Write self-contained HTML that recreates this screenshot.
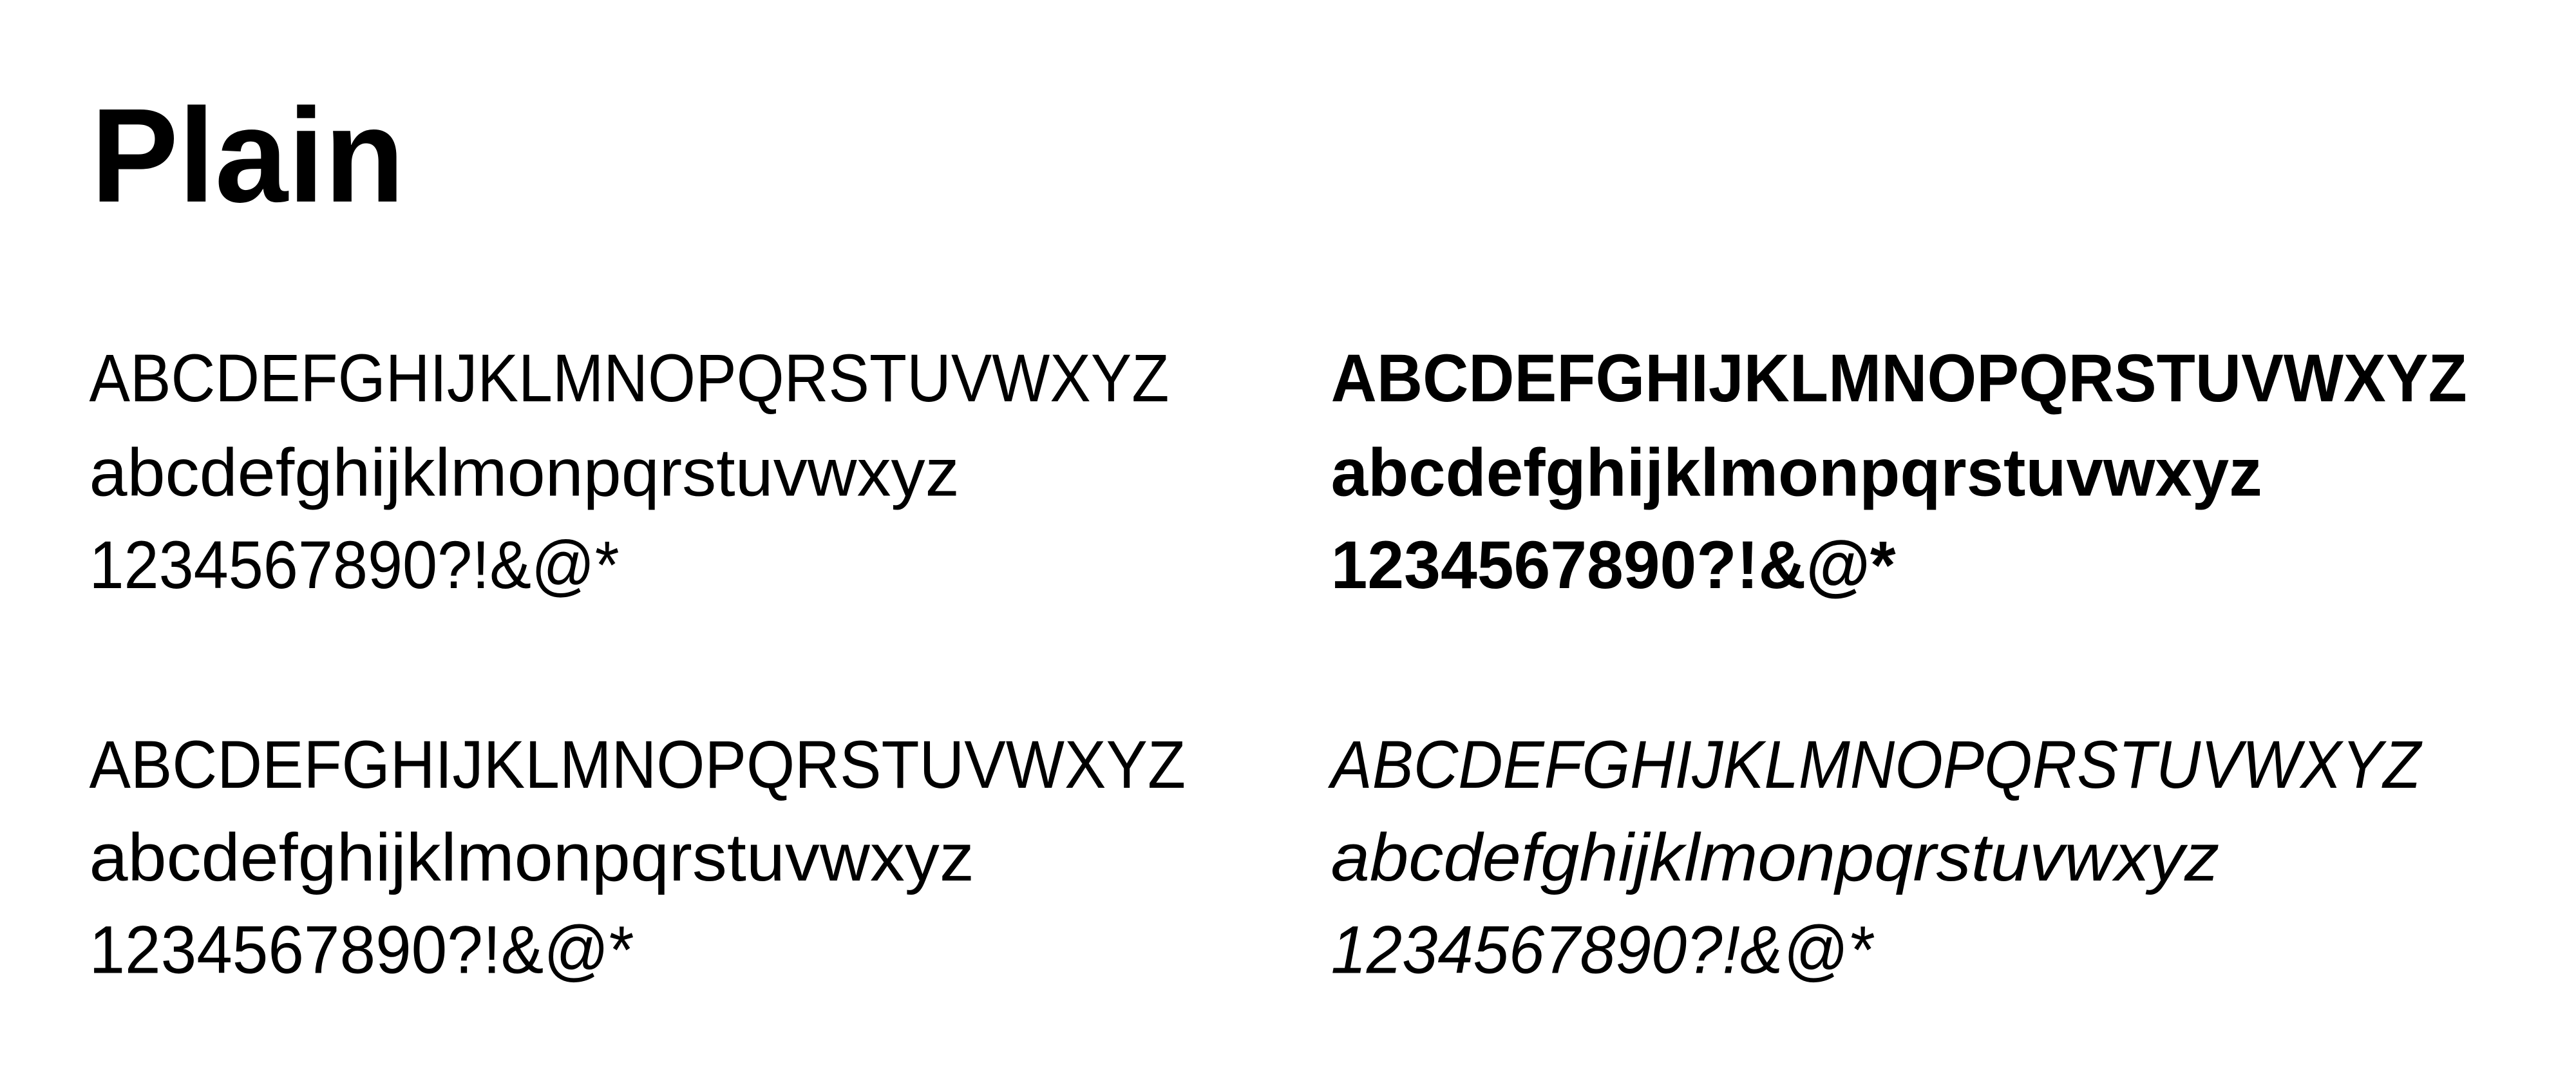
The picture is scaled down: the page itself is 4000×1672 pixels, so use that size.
<!DOCTYPE html>
<html><head><meta charset="utf-8"><style>
html,body{margin:0;padding:0;background:#fff;}
svg{display:block;}
text{font-family:"Liberation Sans",sans-serif;fill:#000;}
</style></head><body>
<svg width="4000" height="1672" viewBox="0 0 1560 652" xmlns="http://www.w3.org/2000/svg">
<rect width="1560" height="652" fill="#fff"/>
<text x="55" y="122" font-size="81" font-weight="bold" textLength="190" lengthAdjust="spacingAndGlyphs">Plain</text>

<g font-size="41">
<text x="54" y="243" textLength="654" lengthAdjust="spacingAndGlyphs">ABCDEFGHIJKLMNOPQRSTUVWXYZ</text>
<text x="54" y="300" textLength="527" lengthAdjust="spacingAndGlyphs">abcdefghijklmonpqrstuvwxyz</text>
<text x="54" y="356" textLength="321" lengthAdjust="spacingAndGlyphs">1234567890?!&amp;@*</text>

<text x="54" y="477" textLength="664" lengthAdjust="spacingAndGlyphs">ABCDEFGHIJKLMNOPQRSTUVWXYZ</text>
<text x="54" y="533" textLength="536" lengthAdjust="spacingAndGlyphs">abcdefghijklmonpqrstuvwxyz</text>
<text x="54" y="589" textLength="330" lengthAdjust="spacingAndGlyphs">1234567890?!&amp;@*</text>
</g>

<g font-size="41" font-weight="bold">
<text x="806" y="243" textLength="688" lengthAdjust="spacingAndGlyphs">ABCDEFGHIJKLMNOPQRSTUVWXYZ</text>
<text x="806" y="300" textLength="564" lengthAdjust="spacingAndGlyphs">abcdefghijklmonpqrstuvwxyz</text>
<text x="806" y="356" textLength="342" lengthAdjust="spacingAndGlyphs">1234567890?!&amp;@*</text>
</g>

<g font-size="41" font-style="italic">
<text x="806" y="477" textLength="660" lengthAdjust="spacingAndGlyphs">ABCDEFGHIJKLMNOPQRSTUVWXYZ</text>
<text x="806" y="533" textLength="538" lengthAdjust="spacingAndGlyphs">abcdefghijklmonpqrstuvwxyz</text>
<text x="806" y="589" textLength="328" lengthAdjust="spacingAndGlyphs">1234567890?!&amp;@*</text>
</g>
</svg>
</body></html>
